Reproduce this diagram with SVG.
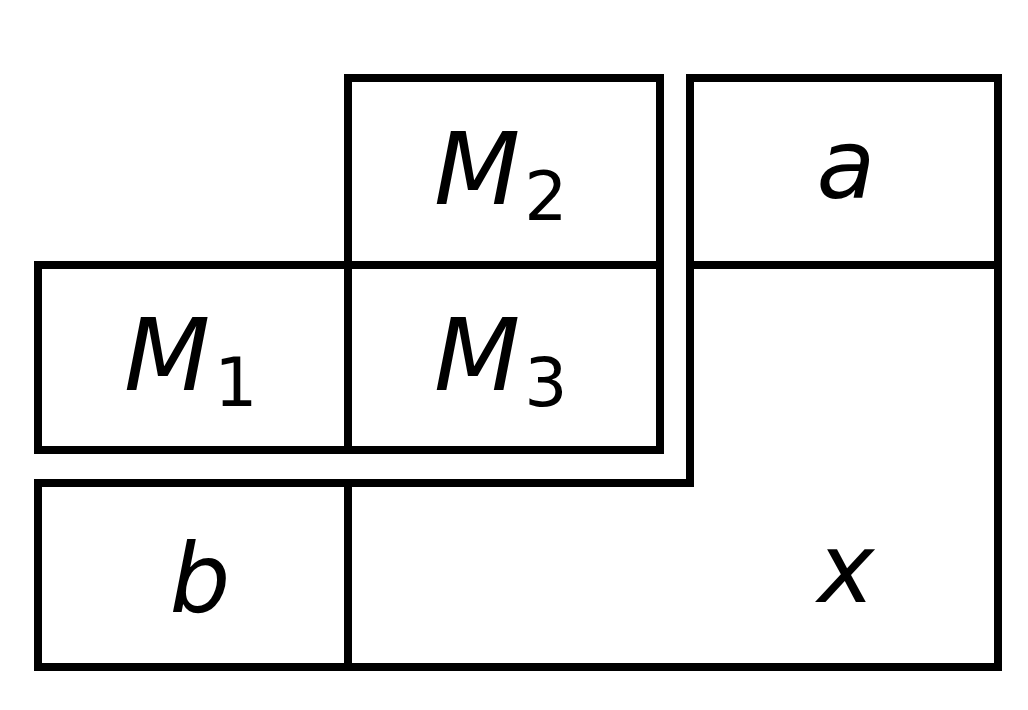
<svg xmlns="http://www.w3.org/2000/svg" width="1028" height="710" viewBox="0 0 1028 710">
<style>
.b{fill:none;stroke:#000;stroke-width:8;stroke-linejoin:miter}
.t{font-family:"DejaVu Sans","Liberation Sans",sans-serif;font-style:italic;font-size:96px;fill:#000}
.m{font-size:100px;letter-spacing:4px}
.s{font-family:"DejaVu Sans","Liberation Sans",sans-serif;font-style:normal;font-size:68px;fill:#000;letter-spacing:0}
</style>
<rect width="1028" height="710" fill="#fff"/>
<g id="connectors"></g>
<g id="M2"><rect class="b" x="348" y="78" width="312" height="187"/>
<text class="t m" x="434" y="204">M<tspan class="s" dy="16">2</tspan></text></g>
<g id="M1"><rect class="b" x="38" y="265" width="310" height="185"/>
<text class="t m" x="124" y="390">M<tspan class="s" dy="16">1</tspan></text></g>
<g id="M3"><rect class="b" x="348" y="265" width="312" height="185"/>
<text class="t m" x="434" y="390">M<tspan class="s" dy="16">3</tspan></text></g>
<g id="a"><rect class="b" x="690" y="78" width="308" height="187"/>
<text class="t" x="846" y="198" text-anchor="middle">a</text></g>
<g id="x"><path class="b" d="M690 265 V483 H348 V667 H998 V265"/>
<text class="t" x="846" y="602" text-anchor="middle">x</text></g>
<g id="b"><rect class="b" x="38" y="483" width="310" height="184"/>
<text class="t" x="200" y="612" text-anchor="middle">b</text></g>
</svg>
